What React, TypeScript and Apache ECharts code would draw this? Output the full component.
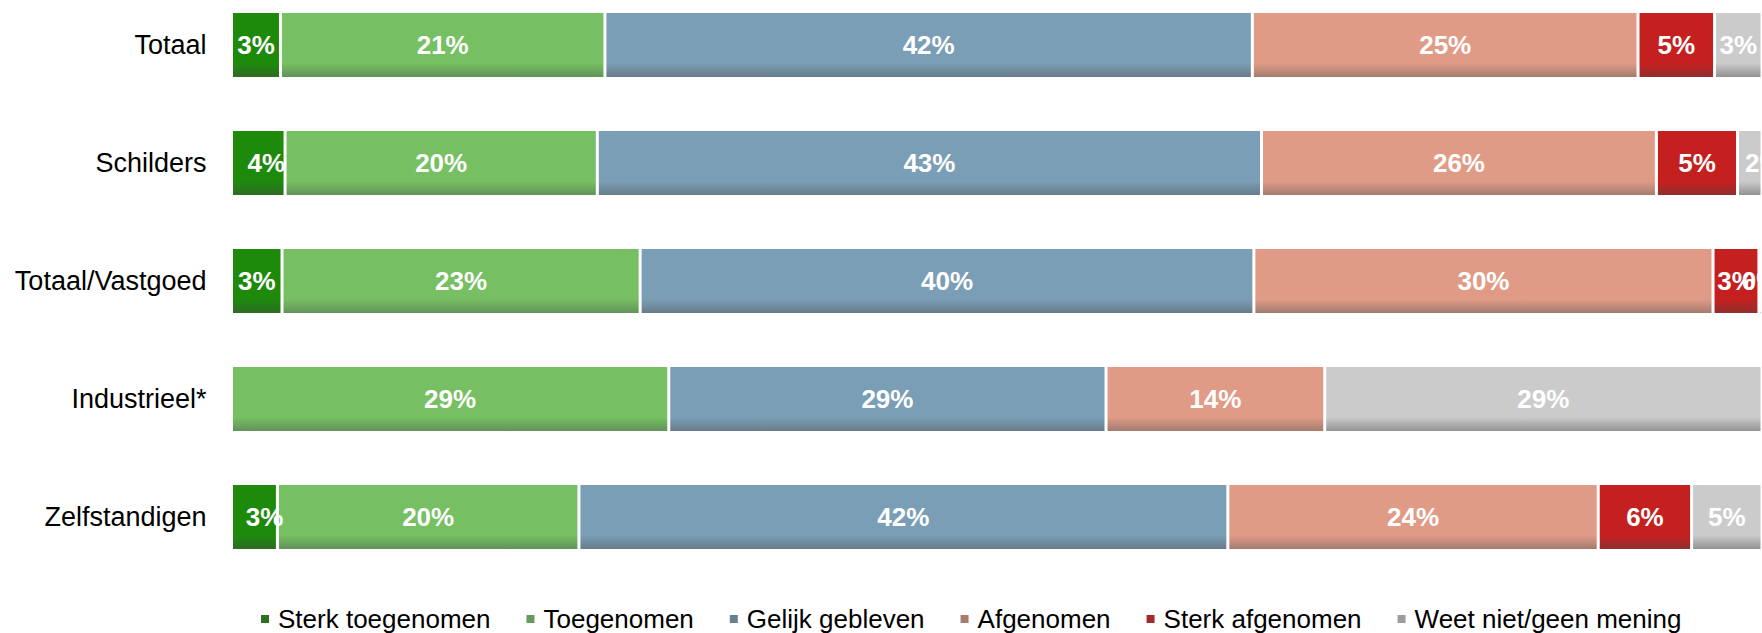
import React, { useEffect, useRef } from "react";
import * as echarts from "echarts";

const categories = ["Totaal", "Schilders", "Totaal/Vastgoed", "Industrieel*", "Zelfstandigen"];
const seriesNames = [
  "Sterk toegenomen",
  "Toegenomen",
  "Gelijk gebleven",
  "Afgenomen",
  "Sterk afgenomen",
  "Weet niet/geen mening",
];
const sterkToegenomen = [3.2, 3.5, 3.3, null, 3.0];
const toegenomen = [21.2, 20.4, 23.4, 28.57, 19.7];
const gelijkGebleven = [42.3, 43.4, 40.1, 28.57, 42.4];
const afgenomen = [25.2, 25.8, 30.0, 14.29, 24.2];
const sterkAfgenomen = [5.0, 5.3, 3.0, null, 6.1];
const weetNiet = [3.1, 1.6, 0.2, 28.57, 4.6];

const seriesValues = [sterkToegenomen, toegenomen, gelijkGebleven, afgenomen, sterkAfgenomen, weetNiet];

const barTop = ["#1d8a0c", "#76bf62", "#7a9eb5", "#e09b86", "#c4201f", "#cbcbcb"];
const barBottom = ["#2f6a25", "#62905a", "#677a88", "#a07a6e", "#8e3030", "#8f8f8f"];
const legendColors = ["#2a721f", "#66995a", "#69818f", "#a87b6f", "#a32b2b", "#9c9c9c"];

// label nudges (style only): [seriesIndex, dataIndex, dx]
const labelNudges: [number, number, number][] = [
  [0, 1, 8],
  [0, 4, 10],
  [5, 1, 14],
];

const FONT = "'Liberation Sans', Arial, sans-serif";
const SHIFT = 14;

export default function App() {
  const ref = useRef<HTMLDivElement>(null);
  useEffect(() => {
    if (!ref.current) return;
    const chart = echarts.init(ref.current, null, { renderer: "svg" });
    const series = seriesNames.map((name, i) => ({
      name,
      type: "bar",
      stack: "total",
      barWidth: 67,
      data: seriesValues[i].map((v, j) => {
        const nudge = labelNudges.find((n) => n[0] === i && n[1] === j);
        return nudge ? { value: v, label: { offset: [nudge[2], 0] } } : v;
      }),
      itemStyle: {
        color: new echarts.graphic.LinearGradient(0, 0, 0, 1, [
          { offset: 0, color: barTop[i] },
          { offset: 0.78, color: barTop[i] },
          { offset: 1, color: barBottom[i] },
        ]),
        borderColor: "#ffffff",
        borderWidth: 1.5,
      },
      label: {
        show: true,
        position: "inside",
        color: "#ffffff",
        fontFamily: FONT,
        fontSize: 26,
        fontWeight: "bold",
        formatter: (p: any) => (p.value == null ? "" : Math.round(p.value) + "%"),
      },
      emphasis: { disabled: true },
    }));
    chart.setOption({
      animation: false,
      grid: { left: 231.5, top: 0, width: 1533, height: 590, containLabel: false },
      xAxis: { type: "value", min: 0, max: 100, show: false },
      yAxis: {
        type: "category",
        data: categories,
        inverse: true,
        axisLine: { show: false },
        axisTick: { show: false },
        splitLine: { show: false },
        axisLabel: { color: "#000000", fontFamily: FONT, fontSize: 27, margin: 25 },
      },
      legend: {
        left: 254,
        top: 601 + SHIFT,
        itemWidth: 10,
        itemHeight: 10,
        itemGap: 34,
        icon: "rect",
        textStyle: { color: "#000000", fontFamily: FONT, fontSize: 26, padding: [0, 0, 0, 3] },
        data: seriesNames.map((n, i) => ({ name: n, itemStyle: { color: legendColors[i] } })),
      },
      series,
    });
    return () => chart.dispose();
  }, []);
  return (
    <div
      ref={ref}
      style={{
        position: "absolute",
        left: 0,
        top: -SHIFT,
        width: 1762,
        height: 633 + SHIFT,
        background: "#ffffff",
      }}
    />
  );
}
